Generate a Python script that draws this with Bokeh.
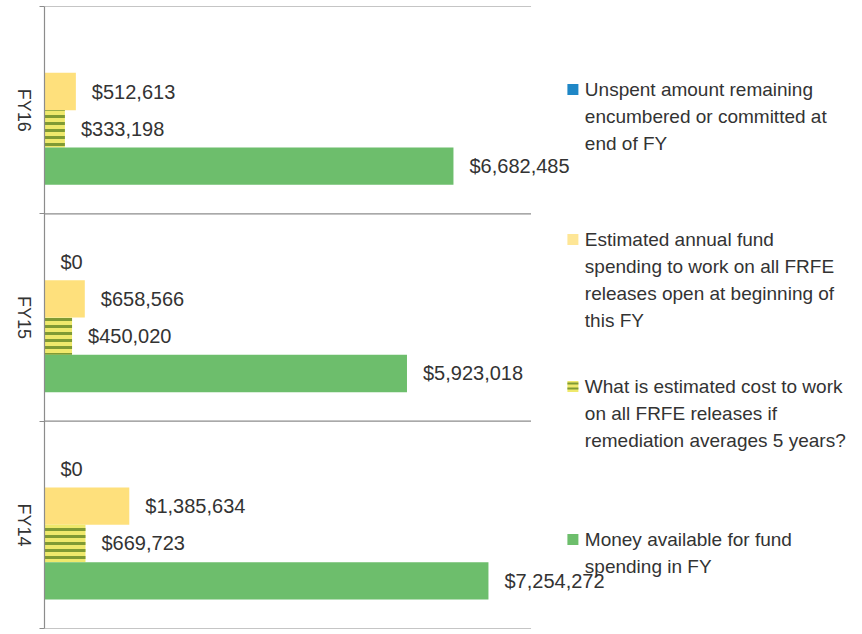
import math
import numpy as np
from bokeh.plotting import figure
from bokeh.models import Range1d, FixedTicker
from bokeh.core.properties import value
from bokeh.embed import file_html
from bokeh.resources import INLINE

# ---- data ----
years = ["FY14", "FY15", "FY16"]          # bottom to top
unspent = [0, 0, float("nan")]            # FY16 has no value
annual_spending = [1385634, 658566, 512613]
cost_5yr = [669723, 450020, 333198]
money_available = [7254272, 5923018, 6682485]

legend_labels = [
    ["Unspent amount remaining", "encumbered or committed at", "end of FY"],
    ["Estimated annual fund", "spending to work on all FRFE", "releases open at beginning of", "this FY"],
    ["What is estimated cost to work", "on all FRFE releases if", "remediation averages 5 years?"],
    ["Money available for fund", "spending in FY"],
]

BLUE = "#1f87c6"
YELLOW = "#FEE07C"
STRIPE_BG = "#EFE96C"
STRIPE_FG = "#7F9A34"
GREEN = "#6DBE6C"
TEXT = "#333333"
FONT = "Liberation Sans"

PAGE_OFF = 2
W, H = 858, 630
LEFT, TOP, BOTTOM = 40, 6, 2
FRAME_W = W - LEFT
FRAME_H = H - TOP - BOTTOM
PX_PER_M = 61.5
XMAX = FRAME_W / PX_PER_M * 1e6

p = figure(width=W, height=H, output_backend="svg", toolbar_location=None,
           x_range=Range1d(0, XMAX), y_range=Range1d(0, 3),
           min_border_left=LEFT, min_border_right=0, min_border_top=TOP,
           min_border_bottom=BOTTOM)
p.outline_line_color = None
p.xaxis.visible = False
p.xgrid.visible = False
p.ygrid.visible = False
p.background_fill_color = "white"

# helpers mapping page pixels to data (used only for legend placement)
def dx(px):
    return (px - PAGE_OFF - LEFT) / FRAME_W * XMAX

def dy(py):
    return 3 - (py - PAGE_OFF - TOP) / FRAME_H * 3

n = len(years)
base = np.arange(n) + 0.5
bh = 0.18
offs = [0.27, 0.09, -0.09, -0.27]

# separators
sep_y = np.arange(n + 1)
p.segment(x0=0, y0=sep_y, x1=7.95e6, y1=sep_y, line_color="#8c8c8c", line_width=1.2)

series = [unspent, annual_spending, cost_5yr, money_available]
p.hbar(y=base + offs[0], height=bh, left=0, right=np.nan_to_num(unspent), fill_color=BLUE, line_color=None)
p.hbar(y=base + offs[1], height=bh, left=0, right=annual_spending, fill_color=YELLOW, line_color=None)
p.hbar(y=base + offs[2], height=bh, left=0, right=cost_5yr, fill_color=STRIPE_BG, line_color=None,
       hatch_pattern="horizontal_line", hatch_color=STRIPE_FG, hatch_scale=7, hatch_weight=3)
p.hbar(y=base + offs[3], height=bh, left=0, right=money_available, fill_color=GREEN, line_color=None)

lx, ly, lt = [], [], []
for s, off in zip(series, offs):
    for i, v in enumerate(s):
        if v is None or (isinstance(v, float) and math.isnan(v)):
            continue
        lx.append(v)
        ly.append(base[i] + off)
        lt.append(f"${v:,.0f}")
p.text(x=lx, y=ly, text=lt, x_offset=16, text_baseline="middle", text_align="left",
       text_font=value(FONT), text_font_size="20px", text_color=TEXT)

# y axis (rotated labels are end-anchored, so shift the hidden tick by half a label length)
label_shift = 0.104
tick_pos = [round(float(b) - label_shift, 4) for b in base]
ax = p.yaxis[0]
ax.ticker = FixedTicker(ticks=tick_pos, minor_ticks=list(sep_y.astype(float)))
ax.major_label_overrides = {t: y for t, y in zip(tick_pos, years)}
ax.major_label_orientation = -math.pi / 2
ax.major_tick_line_color = None
ax.minor_tick_line_color = "#8c8c8c"
ax.minor_tick_out = 5
ax.minor_tick_in = 0
ax.axis_line_color = "#8c8c8c"
ax.axis_line_width = 1.2
ax.major_label_text_font = FONT
ax.major_label_text_font_size = "18px"
ax.major_label_text_color = TEXT
ax.major_label_standoff = 15

# legend (manual, multi-line)
entry_tops = [91, 241, 388, 541]
line_gap = 27
colors = [BLUE, YELLOW, STRIPE_BG, GREEN]
tx, ty, tt = [], [], []
for k, (lines, top) in enumerate(zip(legend_labels, entry_tops)):
    for j, line in enumerate(lines):
        tx.append(dx(585))
        ty.append(dy(top + j * line_gap))
        tt.append(line)
    kw = dict(width=11, height=11, width_units="screen", height_units="screen",
              fill_color=colors[k], line_color=None)
    if k == 2:
        kw.update(hatch_pattern="horizontal_line", hatch_color=STRIPE_FG, hatch_scale=5, hatch_weight=2)
    if k == 1:
        kw.update(fill_alpha=0.8)
    p.rect(x=[dx(573)], y=[dy(top)], **kw)
p.text(x=tx, y=ty, text=tt, text_baseline="middle", text_align="left",
       text_font=value(FONT), text_font_size="19px", text_color=TEXT)

open("out.html", "w").write(file_html(p, INLINE))
